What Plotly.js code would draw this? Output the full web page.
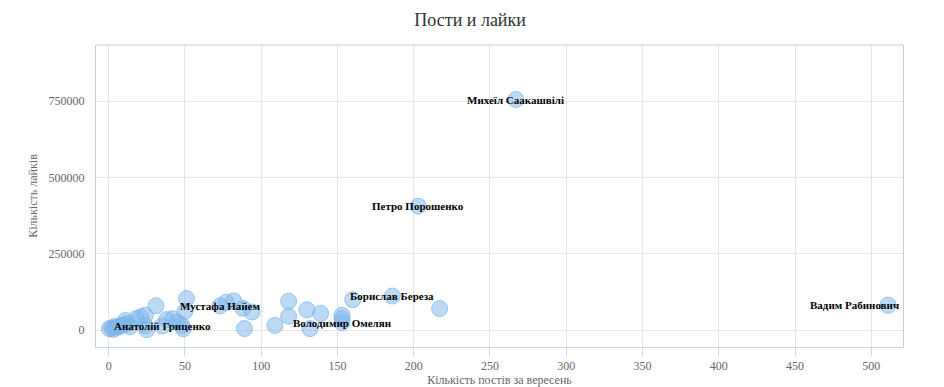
<!DOCTYPE html>
<html><head><meta charset="utf-8">
<script src="https://cdn.plot.ly/plotly-3.0.1.min.js"></script>
<style>body{margin:0;background:#fff}#chart{width:944px;height:387px}</style>
</head><body><div id="chart"></div>
<script>
const names = [
  "Михеїл Саакашвілі","Петро Порошенко","Вадим Рабинович","Борислав Береза",
  "Мустафа Найем","Володимир Омелян","Анатолій Гриценко",
  "","","","","","","","","","","","","","","","","","","","","","","","","","","","","","","","","","","","","",""
];
const posts = [
  267, 203, 511, 186, 73, 153, 35,
  0.5, 2, 4, 6, 8, 10, 12, 3, 14, 11, 18, 21, 24, 25, 24, 31, 38, 42, 45, 48, 49, 51, 50,
  77, 82, 88, 94, 89, 109, 118, 118, 130, 139, 132, 153, 153, 160, 217
];
const likes = [
  755000, 406000, 82000, 112000, 80000, 25000, 14000,
  5000, 8000, 12000, 10000, 15000, 18000, 22000, 3000, 12000, 32000, 38000, 44000, 49000, 2000, 15000, 80000, 35000, 38000, 27000, 16000, 5000, 104000, 62000,
  92000, 96000, 72000, 60000, 5500, 16000, 95000, 46000, 67000, 55000, 5500, 49000, 38000, 100000, 71000
];
const xTicks = [0,50,100,150,200,250,300,350,400,450,500];
const yTicks = [0,250000,500000,750000];

const xRange = [-8.3, 520.8];
const annotations = [];
names.forEach((n, i) => {
  if (!n) return;
  const nearRight = posts[i] > xRange[1] - 40;
  annotations.push({
    x: posts[i], y: likes[i], text: '<b>' + n + '</b>', showarrow: false,
    xanchor: nearRight ? 'right' : 'center', yanchor: 'middle',
    xshift: nearRight ? 13 : 0,
    font: {family: 'Liberation Serif, Times New Roman, serif', size: 11, color: '#000'}
  });
});

const trace = {
  type: 'scatter', mode: 'markers', x: posts, y: likes, text: names,
  hoverinfo: 'x+y+text',
  marker: {size: 16, color: 'rgba(124,181,236,0.5)', line: {color: 'rgba(124,181,236,0.75)', width: 1}}
};
const axisFont = {family: 'Liberation Serif, Times New Roman, serif', size: 12, color: '#666'};
const layout = {
  width: 944, height: 387,
  margin: {l: 96, r: 41, t: 45, b: 40},
  paper_bgcolor: '#fff', plot_bgcolor: '#fff',
  showlegend: false,
  title: {text: 'Пости и лайки', x: 0.498, xanchor: 'center', y: 0.95, yanchor: 'middle',
    font: {family: 'Liberation Serif, Times New Roman, serif', size: 18, color: '#333'}},
  xaxis: {range: xRange, tickvals: xTicks, ticktext: xTicks.map(String),
    showgrid: true, gridcolor: '#e6e6e6', zeroline: false,
    showline: true, linecolor: '#ccd6eb', mirror: false,
    ticks: 'outside', ticklen: 8, tickcolor: '#ccd6eb',
    tickfont: axisFont,
    title: {text: 'Кількість постів за вересень', font: axisFont, standoff: 4}},
  yaxis: {range: [-54700, 933400], tickvals: yTicks, ticktext: yTicks.map(String),
    showgrid: true, gridcolor: '#e6e6e6', zeroline: false,
    showline: true, linecolor: '#cccccc', mirror: true,
    ticks: '', ticklabelstandoff: 8,
    tickfont: axisFont,
    title: {text: 'Кількість лайків', font: axisFont, standoff: 8}},
  shapes: [{type: 'line', xref: 'paper', yref: 'paper', x0: 0, x1: 1, y0: 1, y1: 1,
    line: {color: '#cccccc', width: 1}}],
  annotations: annotations
};
Plotly.newPlot('chart', [trace], layout, {displayModeBar: false, staticPlot: true});
</script></body></html>
